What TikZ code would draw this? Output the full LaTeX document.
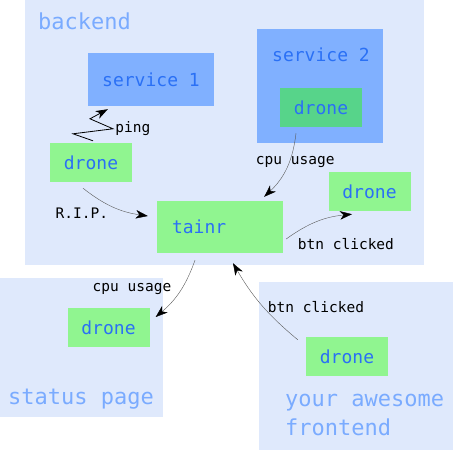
\documentclass[tikz,border=0pt]{standalone}
\usepackage{fontspec}
\setmainfont{DejaVu Sans Mono}
\definecolor{regionBg}{HTML}{DFE9FC}
\definecolor{serviceBlue}{HTML}{80B0FF}
\definecolor{droneGreen}{HTML}{90F590}
\definecolor{innerGreen}{HTML}{57D48A}
\definecolor{textBlue}{HTML}{2A70F5}
\definecolor{regionText}{HTML}{7AABFF}
\usepackage{tikz}
\usetikzlibrary{arrows.meta}

\begin{document}
\begin{tikzpicture}[x=1pt, y=1pt,
			regionStyle/.style={fill=regionBg, inner sep=0pt, anchor=north west},
			regionLabel/.style={text=regionText, font=\fontsize{22}{26}\selectfont, inner sep=0pt, anchor=base west},
			boxStyle/.style={text=textBlue, font=\fontsize{18}{20}\selectfont, inner sep=0pt},
			service/.style={boxStyle, fill=serviceBlue, minimum width=126pt},
			drone/.style={boxStyle, fill=droneGreen, minimum width=82pt, minimum height=39pt},
			edgeLabel/.style={font=\fontsize{14.5}{16}\selectfont, text=black, inner sep=2pt},
			arrowStyle/.style={-{Stealth[length=12pt, width=8.5pt, inset=3.5pt, black]}, draw=gray!70!black, thin},
			pingStyle/.style={-{Stealth[length=12pt, width=8.5pt, inset=3.5pt]}, black, line width=0.8pt},]
			
			\useasboundingbox (0,0) rectangle (453,450);
			
			\node[regionStyle, minimum width=399pt, minimum height=265pt] (backend) at (25,450) {};
			\node[regionStyle, minimum width=163pt, minimum height=139pt] (status) at (0,172) {};
			\node[regionStyle, minimum width=194pt, minimum height=168pt] (frontend) at (259,168) {};
			
			\node[regionLabel] (backendLabel) at (38,420) {backend};
			\node[regionLabel] (statusLabel) at (8,45) {status page};
			\node[regionLabel] (frontendLabel) at (285,43) {your awesome};
			\node[regionLabel] (frontendLabelB) at (285,14) {frontend};
			
			\node[service, minimum height=53pt] (s1) at (151,370.5) {service 1};
			\node[service, minimum height=114pt] (s2) at (320,364) {};
			\node[boxStyle, anchor=base] (s2Label) at ([xshift=1pt, yshift=-33pt]s2.north) {service 2};
			
			\node[drone, fill=innerGreen] (d2) at (321,342.5) {drone};
			\foreach \name/\where in {d1/{(91,287.5)}, d3/{(369.5,258.5)}, d4/{(108.5,122)}, d5/{(347,93.5)}}
			\node[drone] (\name) at \where {drone};
			
			\node[boxStyle, fill=droneGreen, text width=96pt, align=left, inner xsep=15pt, minimum height=52pt] (tainr) at (220,223) {tainr};
			
			%%%%%%%%%%%
			\draw[pingStyle] ([shift={(2,2)}]d1.north) -- ++(-20,7) -- ++(40,5) node[edgeLabel, right] {ping} -- ++(-23,10) -- ([shift={(20,-3)}]s1.south west);
			
			\draw[arrowStyle] ([shift={(-8,-6)}]d1.south) to[bend right=15] node[edgeLabel, pos=.45, below left=0pt] {R.I.P.} ([shift={(-9,11)}]tainr.west);
			
			\draw[arrowStyle] ([shift={(-25,-6)}]d2.south) to[bend left=20] node[edgeLabel, pos=.4, xshift=6pt] {cpu usage} ([shift={(-19,4)}]tainr.north east);
			
			\draw[arrowStyle] ([shift={(3,-12)}]tainr.east) to[bend left=15] node[edgeLabel, pos=.1, anchor=north west, xshift=3pt, yshift=-2pt] {btn clicked} ([shift={(-17.5,-3)}]d3.south);
			
			\draw[arrowStyle] ([shift={(-25,-7)}]tainr.south) to[bend left=15] node[edgeLabel, pos=.45, anchor=east, xshift=-8pt] {cpu usage} ([shift={(6,11)}]d4.east);
			
			\draw[arrowStyle] ([shift={(-8,-3)}]d5.north west) to[bend left=10] node[edgeLabel, pos=.43, anchor=west, yshift=3pt] {btn clicked} ([shift={(13,-10)}]tainr.south);
		\end{tikzpicture}
\end{document}
